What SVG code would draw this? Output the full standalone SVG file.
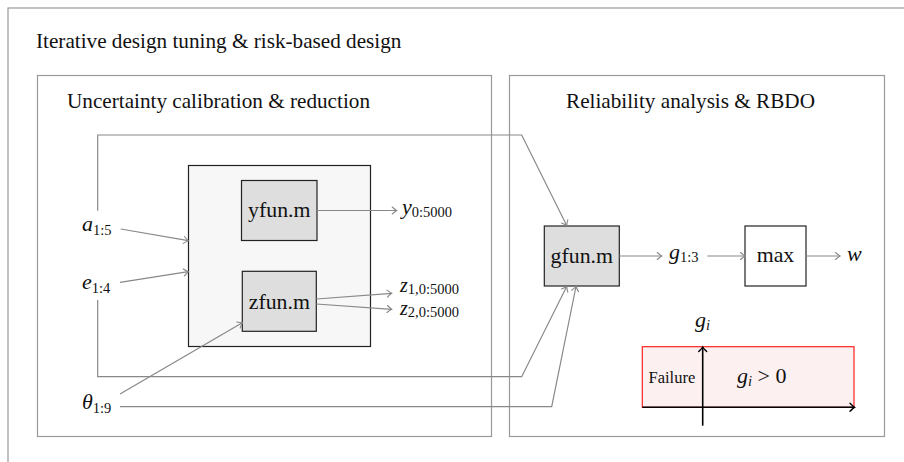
<svg xmlns="http://www.w3.org/2000/svg" width="904" height="462" viewBox="0 0 904 462">
<defs>
<style>
text{font-family:"Liberation Serif","DejaVu Serif",serif;fill:#111}
.frame{fill:none;stroke:#999;stroke-width:1.2}
.box{stroke:#222;stroke-width:1.2}
.gbox{fill:#dedede}
.conn{fill:none;stroke:#888;stroke-width:1.2}
.ax{fill:none;stroke:#000;stroke-width:1.6}
.ttl{font-size:21.2px}
.lbl{font-size:21.8px;text-anchor:middle}
.var{font-size:22px;font-style:italic}
.zv{font-size:20px;font-style:italic}
.sub{font-size:14.5px;font-style:normal}
.subi{font-size:14.5px;font-style:italic}
</style>
<marker id="ah" markerUnits="userSpaceOnUse" markerWidth="12" markerHeight="12" viewBox="-6 -6 12 12" refX="0" refY="0" orient="auto">
<path d="M-4.5,-3.5 Q-1.2,-0.6 0,0 Q-1.2,0.6 -4.5,3.5" fill="none" stroke="#888" stroke-width="1.1" stroke-linecap="round"/>
</marker>
<marker id="ahk" markerUnits="userSpaceOnUse" markerWidth="12" markerHeight="12" viewBox="-6 -6 12 12" refX="0" refY="0" orient="auto">
<path d="M-4.5,-4 Q-1.2,-0.6 0,0 Q-1.2,0.6 -4.5,4" fill="none" stroke="#000" stroke-width="1.4" stroke-linecap="round"/>
</marker>
</defs>
<rect width="904" height="462" fill="#fff"/>
<g id="outer">
<rect class="frame" x="8" y="8" width="910" height="470"/>
<text class="ttl" x="36" y="48">Iterative design tuning &amp; risk-based design</text>
</g>
<g id="panel-left">
<rect class="frame" x="37.5" y="75.5" width="454" height="361"/>
<text class="ttl" x="67" y="108">Uncertainty calibration &amp; reduction</text>
</g>
<g id="panel-right">
<rect class="frame" x="509.5" y="75.5" width="375" height="361"/>
<text class="ttl" x="566" y="108">Reliability analysis &amp; RBDO</text>
</g>
<g id="model-group">
<rect class="box" x="188.5" y="165.5" width="182" height="181" fill="#f7f7f7"/>
</g>
<g id="yfun">
<rect class="box gbox" x="241.5" y="180.5" width="75.5" height="60"/>
<text class="lbl" x="279.3" y="217">yfun.m</text>
</g>
<g id="zfun">
<rect class="box gbox" x="242.3" y="271.3" width="74" height="60"/>
<text class="lbl" x="279.3" y="308.5">zfun.m</text>
</g>
<g id="gfun">
<rect class="box gbox" x="544.3" y="226" width="75" height="60"/>
<text class="lbl" x="581.8" y="263">gfun.m</text>
</g>
<g id="max">
<rect class="box" x="745" y="226" width="61" height="60" fill="#fff"/>
<text class="lbl" x="775.5" y="262">max</text>
</g>
<g id="a">
<text class="var" x="82" y="231">a<tspan class="sub" dy="4">1:5</tspan></text>
</g>
<g id="e">
<text class="var" x="82" y="289">e<tspan class="sub" dy="4">1:4</tspan></text>
</g>
<g id="theta">
<text class="var" x="82" y="409">θ<tspan class="sub" dy="4">1:9</tspan></text>
</g>
<g id="y">
<text class="var" x="402" y="214">y<tspan class="sub" dy="3">0:5000</tspan></text>
</g>
<g id="z1">
<text class="zv" x="400" y="291.5">z<tspan class="sub" dy="2">1,0:5000</tspan></text>
</g>
<g id="z2">
<text class="zv" x="400" y="314.5">z<tspan class="sub" dy="2">2,0:5000</tspan></text>
</g>
<g id="g13">
<text class="var" x="669" y="259">g<tspan class="sub" dy="3">1:3</tspan></text>
</g>
<g id="w">
<text class="var" x="847" y="261">w</text>
</g>
<g id="failure-plot">
<rect x="642.3" y="346.7" width="211.7" height="60.6" fill="#fcf0f0" stroke="#f22" stroke-width="1.2"/>
<line class="ax" x1="642.3" y1="407.3" x2="854.5" y2="407.3" marker-end="url(#ahk)"/>
<line class="ax" x1="702.7" y1="425.7" x2="702.7" y2="347" marker-end="url(#ahk)"/>
<text class="var" x="695" y="327">g<tspan class="subi" dy="3">i</tspan></text>
<text x="648.5" y="383" font-size="16.5">Failure</text>
<text class="var" x="737" y="383">g<tspan class="subi" dy="3">i</tspan><tspan font-style="normal" dy="-3"> &gt; 0</tspan></text>
</g>
<g id="connectors">
<line class="conn" x1="120.7" y1="229" x2="188.3" y2="240.7" marker-end="url(#ah)"/>
<line class="conn" x1="120" y1="282.3" x2="188.3" y2="271.7" marker-end="url(#ah)"/>
<line class="conn" x1="120" y1="394" x2="242.3" y2="322.7" marker-end="url(#ah)"/>
<line class="conn" x1="317" y1="210.5" x2="396.7" y2="210.5" marker-end="url(#ah)"/>
<line class="conn" x1="316.3" y1="299" x2="391.7" y2="293.3" marker-end="url(#ah)"/>
<line class="conn" x1="316.3" y1="304" x2="391.7" y2="309.3" marker-end="url(#ah)"/>
<polyline class="conn" points="97.7,210.7 97.7,135 521.7,135 566.7,225.5" marker-end="url(#ah)"/>
<polyline class="conn" points="97.7,300 97.7,376.7 521.7,376.7 566.7,286.5" marker-end="url(#ah)"/>
<polyline class="conn" points="120,406.7 551.7,406.7 576,286.5" marker-end="url(#ah)"/>
<line class="conn" x1="619.3" y1="256" x2="661.7" y2="256" marker-end="url(#ah)"/>
<line class="conn" x1="707.3" y1="256" x2="745" y2="256" marker-end="url(#ah)"/>
<line class="conn" x1="806" y1="256" x2="840" y2="256" marker-end="url(#ah)"/>
</g>
</svg>
